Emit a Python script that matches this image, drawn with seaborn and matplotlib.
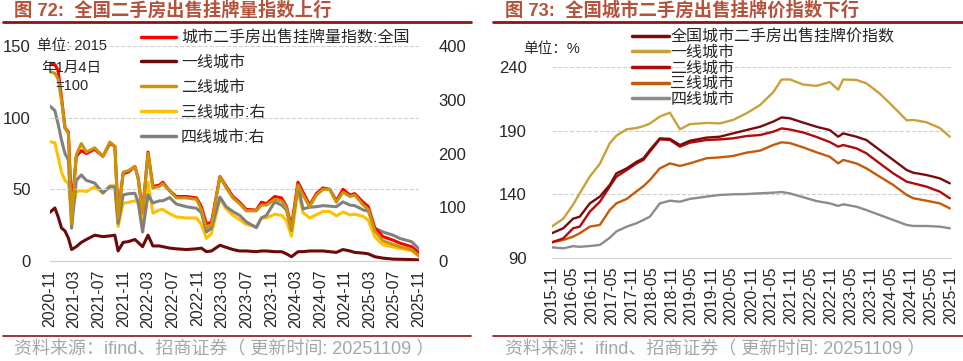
import pandas as pd
import seaborn as sns
import matplotlib.pyplot as plt
import matplotlib.dates as mdates
from matplotlib.lines import Line2D

# ---- left panel: second-hand listing volume index (2015-01-04 = 100)
vol_dates = [
    "2020-11-01", "2020-11-25", "2020-12-11", "2020-12-28", "2021-01-14", "2021-01-31",
    "2021-02-16", "2021-03-11", "2021-04-05", "2021-04-30", "2021-06-10", "2021-07-21",
    "2021-08-24", "2021-09-18", "2021-10-04", "2021-10-29", "2021-11-23", "2021-12-26",
    "2022-01-11", "2022-02-02", "2022-03-01", "2022-03-25", "2022-04-27", "2022-05-13",
    "2022-06-16", "2022-07-19", "2022-09-07", "2022-10-27", "2022-11-20", "2022-12-15",
    "2023-01-09", "2023-02-20", "2023-03-23", "2023-04-25", "2023-05-28", "2023-06-30",
    "2023-08-19", "2023-09-13", "2023-10-08", "2023-11-18", "2023-12-22", "2024-01-15",
    "2024-02-09", "2024-03-12", "2024-04-06", "2024-05-09", "2024-06-11", "2024-07-14",
    "2024-08-16", "2024-09-18", "2024-10-21", "2024-11-24", "2024-12-18", "2025-01-29",
    "2025-02-23", "2025-03-27", "2025-05-07", "2025-06-26", "2025-07-29", "2025-09-25",
    "2025-11-02",
]
vol_national = [
    138, 137, 133, 114, 93, 90, 36, 73, 77, 75, 78, 73, 82, 80, 33, 61, 62, 66, 58, 34,
    76, 52, 53, 55, 49, 45, 45, 44, 38, 26, 27, 59, 52, 45, 41, 36, 35.5, 41, 40, 45,
    44, 38, 24, 55, 48, 39, 47, 51, 50, 42, 50, 46, 47, 41, 38, 23, 17, 14.5, 12.5, 10,
    5.5,
]
vol_tier1 = [
    34, 37, 31, 23, 21, 16, 8, 10, 13, 15, 18, 17, 17.5, 18, 7, 13, 13.5, 15, 13, 10,
    18, 10.5, 10.5, 10, 9, 8.5, 8, 8.5, 9, 6.5, 7, 11, 9.5, 8, 7, 7, 6.5, 7, 7, 6.5,
    6.5, 5, 3, 6.5, 6.5, 7, 7, 7, 6.5, 6, 8, 7, 6, 5.5, 5, 3, 2, 1.3, 1.2, 1, 0.7,
]
vol_tier2 = [
    132, 131, 127, 112, 93, 89, 26, 74, 82, 76, 79, 73, 83, 80, 30, 62, 63, 66, 58, 33,
    75, 51, 52, 54, 49, 44, 44, 43, 36, 23, 25, 59, 51, 44, 40, 35, 35, 39, 39, 43,
    42, 37, 22, 53, 46, 38, 46, 50, 50, 41, 48, 45, 46, 39, 36, 21, 14, 11.5, 10, 8,
    3.5,
]
# tiers 3 and 4 are read on the right-hand axis
vol_tier3 = [
    222, 220, 194, 165, 150, 144, 85, 129, 131, 129, 138, 126, 140, 140, 64, 107, 109,
    112, 108, 67, 147, 89, 95, 96, 88, 82, 80, 80, 68, 42, 51, 116, 97, 85, 77, 68, 64,
    80, 80, 87, 85, 75, 46, 132, 90, 80, 86, 92, 92, 84, 91, 86, 87, 83, 76, 45, 30,
    26, 23.5, 19, 9,
]
vol_tier4 = [
    288, 280, 255, 225, 200, 188, 61, 150, 160, 150, 145, 127, 138, 138, 70, 123, 125,
    126, 110, 54, 123, 108, 112, 112, 118, 106, 101, 98, 90, 54, 61, 119, 101, 92, 85,
    73, 62, 80, 85, 110, 104, 95, 57, 141, 97, 100, 101, 103, 102, 101, 110, 104, 103,
    95, 93, 61, 54, 48, 42, 36, 22,
]
vol_labels = ["城市二手房出售挂牌量指数:全国", "一线城市", "二线城市", "三线城市:右", "四线城市:右"]

# ---- right panel: second-hand listing price index
price_dates = [
    "2015-11-01", "2016-02-15", "2016-05-15", "2016-07-15", "2016-10-15", "2017-01-15",
    "2017-04-15", "2017-06-15", "2017-09-18", "2017-12-18", "2018-02-18", "2018-04-18",
    "2018-07-18", "2018-10-18", "2019-01-18", "2019-04-18", "2019-09-18", "2020-01-18",
    "2020-05-18", "2020-09-18", "2021-01-21", "2021-05-21", "2021-08-06", "2021-10-21",
    "2022-02-21", "2022-06-21", "2022-10-21", "2023-01-06", "2023-02-21", "2023-06-21",
    "2023-09-21", "2024-01-21", "2024-05-24", "2024-09-24", "2024-11-24", "2025-03-24",
    "2025-07-24", "2025-10-24",
]
price_national = [
    109.6, 113.5, 121, 122.6, 133, 138.3, 147.4, 156.5, 160.4, 165.6, 168.3, 174.8,
    183.9, 183.5, 178.7, 182, 184.5, 185.2, 187.8, 190.4, 193, 197, 200.3, 199.6, 196.2,
    193, 190.4, 185.2, 187.8, 185.2, 182.6, 174.8, 167, 159.1, 157, 155.2, 152.6, 148.7,
]
price_tier1 = [
    114.8, 121, 132, 141, 154, 164, 180, 186, 191, 192, 193.5, 195.5, 201, 204, 191, 195,
    196, 195.6, 198.3, 203.5, 210, 220, 230, 230, 226, 225, 228, 222, 230, 229.6, 227,
    219, 208.7, 198, 198.3, 196.5, 192, 185.2,
]
price_tier2 = [
    102.5, 105.6, 113.5, 114.8, 126.5, 134.3, 146.1, 153.9, 159.1, 164.3, 167, 173.5,
    183.1, 182.6, 177.4, 180.5, 182.6, 183.1, 183.9, 185.7, 186.5, 189.1, 191.7, 190.8,
    188.5, 185, 181, 177.4, 178.7, 176.1, 172.2, 164.3, 156.5, 150, 148.7, 146.1, 142.2,
    137,
]
price_tier3 = [
    102.5, 104.3, 107, 109.6, 114.8, 116.1, 127.8, 133, 136.5, 142.5, 146.5, 151.3, 160.4,
    164.3, 162.3, 164.3, 168.3, 169, 170.1, 172.7, 174.3, 178.7, 180.8, 180.2, 176.8, 173,
    169.5, 164.3, 167, 164.3, 160.4, 153.9, 147.4, 139.6, 137, 135.1, 133, 129.1,
]
price_tier4 = [
    98.6, 97.8, 99.5, 99, 99.6, 100.5, 106, 111, 114.8, 117.5, 120, 122.6, 133, 135.1,
    134.3, 136.5, 138.3, 139.6, 140.1, 140.3, 140.9, 141.4, 141.9, 140.8, 137.8, 134.8,
    133, 131, 132.3, 130.4, 127.8, 123.9, 120, 116.1, 115.3, 115.3, 114.8, 113.5,
]
price_labels = ["全国城市二手房出售挂牌价指数", "一线城市", "二线城市", "三线城市", "四线城市"]

vol_colors = ["#ff0000", "#6b0a0a", "#c8940c", "#ffc000", "#808080"]
price_colors = ["#780c0c", "#c9a13b", "#b00a0a", "#c55a0a", "#8c8c8c"]

sns.set_style("white")
plt.rcParams["font.family"] = ["Liberation Sans", "Noto Sans CJK SC"]

W, H = 963, 361
fig = plt.figure(figsize=(W / 100, H / 100), dpi=100)


def fx(px):
    return px / W


def fy(py):
    return 1 - py / H


vol = pd.DataFrame({"date": pd.to_datetime(vol_dates)})
for lab, s in zip(vol_labels, [vol_national, vol_tier1, vol_tier2, vol_tier3, vol_tier4]):
    vol[lab] = s
vol_long = vol.melt(id_vars="date", var_name="series", value_name="value")

price = pd.DataFrame({"date": pd.to_datetime(price_dates)})
for lab, s in zip(price_labels, [price_national, price_tier1, price_tier2, price_tier3, price_tier4]):
    price[lab] = s
price_long = price.melt(id_vars="date", var_name="series", value_name="value")

grid_kw = dict(color="#d0d0d0", linestyle="--", linewidth=0.8)

# ---------------- left chart
ax1 = fig.add_axes([fx(50), fy(261), fx(369), 215 / H])
ax2 = ax1.twinx()
left_part = vol_long[vol_long["series"].isin(vol_labels[:3])]
right_part = vol_long[vol_long["series"].isin(vol_labels[3:])]
sns.lineplot(data=right_part, x="date", y="value", hue="series", hue_order=vol_labels[3:],
             palette=vol_colors[3:], linewidth=2.2, ax=ax2, legend=False)
sns.lineplot(data=left_part, x="date", y="value", hue="series", hue_order=vol_labels[:3],
             palette=vol_colors[:3], linewidth=2.2, ax=ax1, legend=False)
ax1.set_zorder(ax2.get_zorder() + 1)
ax1.patch.set_visible(False)
ax1.set_ylim(0, 150)
ax2.set_ylim(0, 400)
ax1.set_yticks([0, 50, 100, 150])
ax2.set_yticks([0, 100, 200, 300, 400])
ax1.set_xlim(pd.Timestamp("2020-11-01"), pd.Timestamp("2025-11-01"))
ax1.set_xticks(pd.date_range("2020-11-01", "2025-11-01", freq="4MS"))
ax1.xaxis.set_major_formatter(mdates.DateFormatter("%Y-%m"))
for y in [50, 100, 150]:
    ax1.axhline(y, **grid_kw, zorder=0)
for a in (ax1, ax2):
    a.set_xlabel("")
    a.set_ylabel("")
    for s in ["top", "left", "right"]:
        a.spines[s].set_visible(False)
    a.spines["bottom"].set_color("#d0d0d0")
ax1.tick_params(axis="x", rotation=90, labelsize=11.5, length=4, color="#d0d0d0", pad=2)
ax1.tick_params(axis="y", labelsize=12, length=0, pad=14)
ax2.tick_params(axis="y", labelsize=12, length=0, pad=14)

handles = [Line2D([], [], color=c, lw=2.5) for c in vol_colors]
fig.legend(handles, vol_labels, loc="upper left", bbox_to_anchor=(fx(141), fy(30)),
           frameon=False, fontsize=11.5, handlelength=2.2, handletextpad=0.3,
           labelspacing=0.62, borderpad=0, borderaxespad=0)

fig.text(fx(72), fy(46), "单位: 2015", ha="center", va="center", fontsize=10.5)
fig.text(fx(71), fy(68), "年1月4日", ha="center", va="center", fontsize=10.5)
fig.text(fx(72), fy(86), "=100", ha="center", va="center", fontsize=10.5)

# ---------------- right chart
ax3 = fig.add_axes([fx(551.7), fy(258.3), fx(399), 191.6 / H])
sns.lineplot(data=price_long, x="date", y="value", hue="series", hue_order=price_labels[::-1],
             palette=price_colors[::-1], linewidth=1.7, ax=ax3, legend=False)
ax3.set_ylim(90, 240)
ax3.set_yticks([90, 140, 190, 240])
ax3.set_xlim(pd.Timestamp("2015-11-01"), pd.Timestamp("2025-11-01"))
ax3.set_xticks(pd.date_range("2015-11-01", "2025-11-01", freq="6MS"))
ax3.xaxis.set_major_formatter(mdates.DateFormatter("%Y-%m"))
for y in [140, 190, 240]:
    ax3.axhline(y, **grid_kw, zorder=0)
ax3.set_xlabel("")
ax3.set_ylabel("")
for s in ["top", "left", "right"]:
    ax3.spines[s].set_visible(False)
ax3.spines["bottom"].set_color("#d0d0d0")
ax3.tick_params(axis="x", rotation=90, labelsize=11.5, length=4, color="#d0d0d0", pad=2)
ax3.tick_params(axis="y", labelsize=12, length=0, pad=18)

handles = [Line2D([], [], color=c, lw=2.5) for c in price_colors]
fig.legend(handles, price_labels, loc="upper left", bbox_to_anchor=(fx(632), fy(29)),
           frameon=False, fontsize=11.5, handlelength=2.3, handletextpad=0.1,
           labelspacing=0.04, borderpad=0, borderaxespad=0)
fig.text(fx(523), fy(49), "单位：%", ha="left", va="center", fontsize=10.5)

# ---------------- titles, rules and source notes
title_color = "#b5533a"
fig.text(fx(14), fy(11), "图 72:  全国二手房出售挂牌量指数上行", ha="left", va="center",
         fontsize=13.2, fontweight="bold", color=title_color)
fig.text(fx(505), fy(11), "图 73:  全国城市二手房出售挂牌价指数下行", ha="left", va="center",
         fontsize=13.2, fontweight="bold", color=title_color)
rule = "#8b1414"
for x0, x1 in [(3, 471), (493, 963)]:
    fig.add_artist(Line2D([fx(x0), fx(x1)], [fy(22), fy(22)], color=rule, lw=2))
    fig.add_artist(Line2D([fx(x0), fx(x1)], [fy(336), fy(336)], color=rule, lw=1.2))
src = "资料来源：ifind、招商证券（ 更新时间: 20251109 ）"
fig.text(fx(14), fy(350), src, ha="left", va="center", fontsize=13, color="#a6a6a6")
fig.text(fx(505), fy(350), src, ha="left", va="center", fontsize=13, color="#a6a6a6")

fig.savefig("out.png", dpi=100)
